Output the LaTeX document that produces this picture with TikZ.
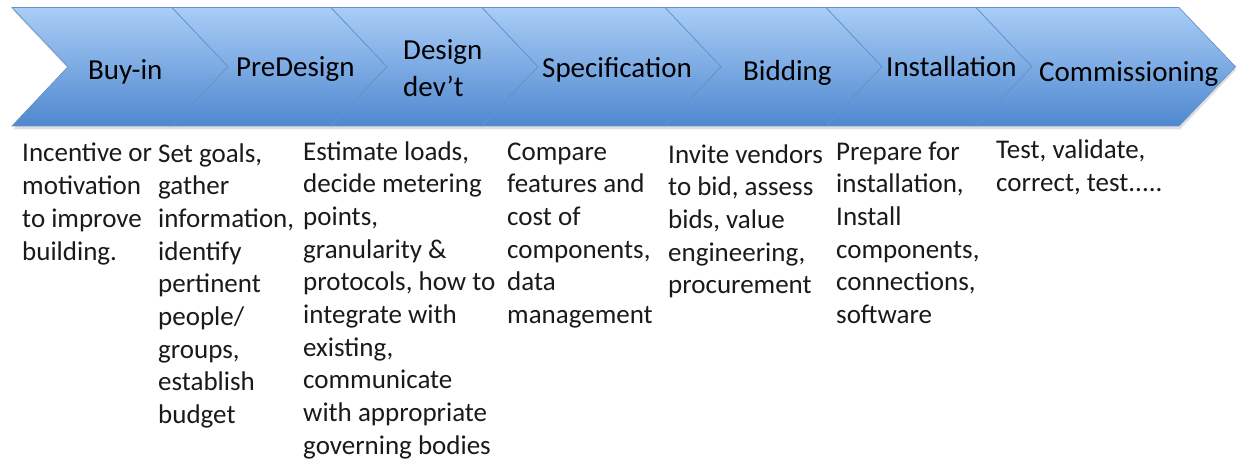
\documentclass[tikz,border=0pt]{standalone}
\usepackage{fontspec}
\setmainfont{Carlito}
\definecolor{cTop}{HTML}{A9CDF6}
\definecolor{cMid}{HTML}{80AEE8}
\definecolor{cBot}{HTML}{4F88D0}
\definecolor{cEdge}{HTML}{6592C8}
\definecolor{cTxt}{HTML}{1A1A1A}
\begin{document}
\begin{tikzpicture}[x=1pt,y=1pt,
  chev/.style={top color=cTop, middle color=cMid, bottom color=cBot, draw=cEdge, line width=0.7pt, line join=miter},
  lbl/.style={anchor=base west, inner sep=0pt, text=black, font={\fontsize{29}{37}\selectfont}, align=left},
  desc/.style={anchor=base west, inner sep=0pt, text=cTxt, font={\fontsize{27}{32.7}\selectfont}, align=left}]
\useasboundingbox (0,0) rectangle (1236,461);
\fill[white] (0,0) rectangle (1236,461);
% shadow
\fill[black!35, opacity=0.35] (13,450.5) -- (1180,450.5) -- (1236,391.25) -- (1180,331.5) -- (13,331.5) -- (69,391.25) -- cycle;
% chevrons
\foreach \a/\b in {12/172,172/331,331/482,482/665,665/826,826/976}
  \path[chev] (\a,453.5) -- (\b,453.5) -- (\b+56,394.25) -- (\b,335) -- (\a,335) -- (\a+56,394.25) -- cycle;
\path[chev] (976,453.5) -- (1179,453.5) -- (1235.5,394.25) -- (1179,335) -- (976,335) -- (1032,394.25) -- cycle;
% labels (base anchor = baseline of the last line)
\node[lbl] (l1) at (88,381) {Buy-in};
\node[lbl] (l2) at (236,384) {PreDesign};
\node[lbl] (l3) at (403,364) {Design\\dev’t};
\node[lbl] (l4) at (542,383) {Specification};
\node[lbl] (l5) at (743,380) {Bidding};
\node[lbl] (l6) at (886,384) {Installation};
\node[lbl] (l7) at (1039,379) {Commissioning};
% descriptions (base anchor = baseline of the last line)
\node[desc] (d1) at (22,200.9) {Incentive or\\motivation\\to improve\\building.};
\node[desc] (d2) at (158,37.4) {Set goals,\\gather\\information,\\identify\\pertinent\\people/\\groups,\\establish\\budget};
\node[desc] (d3) at (303,6.7) {Estimate loads,\\decide metering\\points,\\granularity \&\\protocols, how to\\integrate with\\existing,\\communicate\\with appropriate\\governing bodies};
\node[desc] (d4) at (507,137.5) {Compare\\features and\\cost of\\components,\\data\\management};
\node[desc] (d5) at (668,167.2) {Invite vendors\\to bid, assess\\bids, value\\engineering,\\procurement};
\node[desc] (d6) at (836,137.5) {Prepare for\\installation,\\Install\\components,\\connections,\\software};
\node[desc] (d7) at (996,269.3) {Test, validate,\\correct, test.....};
\end{tikzpicture}
\end{document}
